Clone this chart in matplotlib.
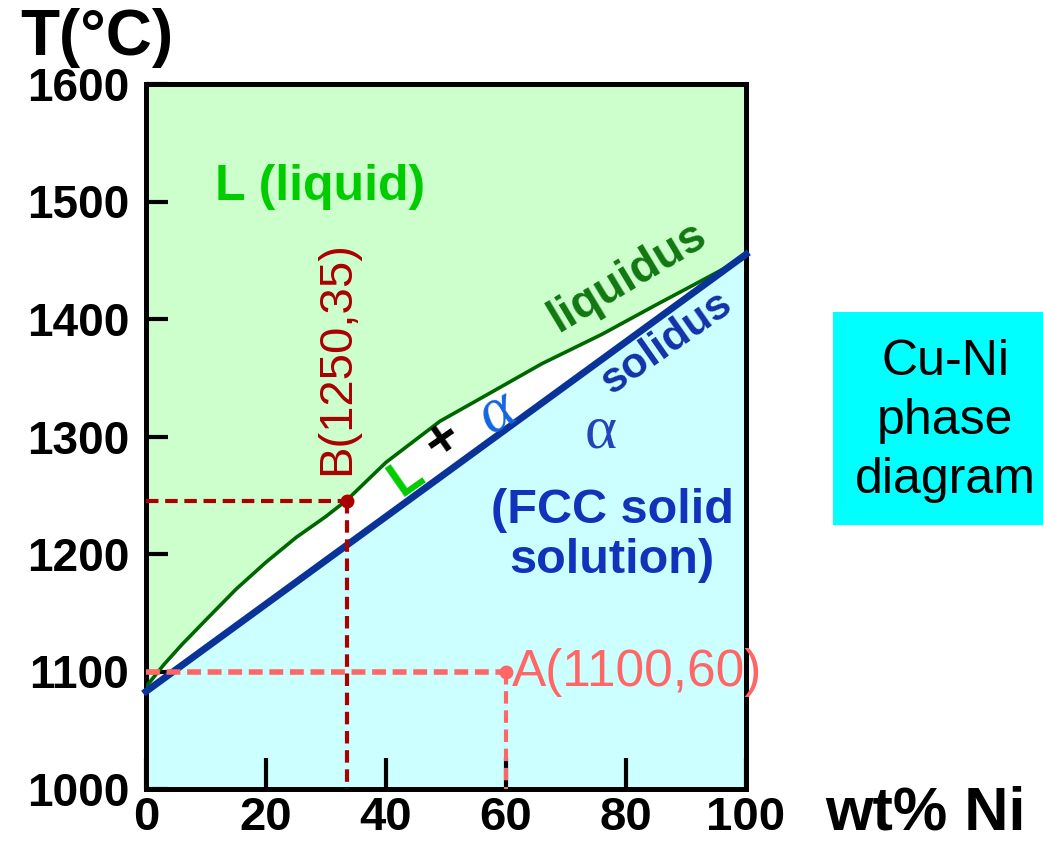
import matplotlib
matplotlib.use("Agg")
import matplotlib.pyplot as plt
from matplotlib.patches import Rectangle

plt.rcParams['font.family'] = ['Liberation Sans', 'DejaVu Sans']

# phase boundaries (wt% Ni, T in C)
liq_x = [0, 3, 6, 10, 15, 20, 25, 30, 33.5, 40, 49, 57, 66, 76, 85, 92, 100]
liq_t = [1087, 1106, 1123, 1144, 1170, 1193, 1214, 1232, 1246, 1278, 1313, 1336, 1362, 1387, 1412, 1431, 1453]
sol_x = [0, 100]
sol_t = [1083, 1455]

# points
B = (33.5, 1245)
A = (60, 1100)

xticks = [0, 20, 40, 60, 80, 100]
yticks = [1000, 1100, 1200, 1300, 1400, 1500, 1600]

fig = plt.figure(figsize=(10.43, 8.44), dpi=100)
ax = fig.add_axes([146/1043, 1-789/844, 600/1043, 705/844])
ax.set_xlim(0, 100)
ax.set_ylim(1000, 1600)

# regions
ax.fill(liq_x + [100, 0], liq_t + [1600, 1600], color='#ccffcc', lw=0, zorder=0)
ax.fill(sol_x + [100, 0], sol_t + [1000, 1000], color='#ccffff', lw=0, zorder=0)

ax.plot(liq_x, liq_t, color='#006600', lw=2.6, zorder=3)
ax.plot(sol_x, sol_t, color='#0a3399', lw=5, zorder=3, clip_on=False)

# B and A dashed guides
ax.plot([0, B[0]], [B[1], B[1]], color='#aa0000', lw=3, ls=(0, (3, 1.6)), zorder=4)
ax.plot([B[0], B[0]], [B[1], 1000], color='#aa0000', lw=3, ls=(0, (3, 1.6)), zorder=4)
ax.plot([B[0]], [B[1]], 'o', color='#aa0000', ms=9, zorder=5)
ax.plot([0, A[0]], [A[1], A[1]], color='#ff6666', lw=4, ls=(0, (2.5, 1.2)), zorder=4)
ax.plot([A[0], A[0]], [A[1], 1000], color='#ff6666', lw=3, ls=(0, (3, 1.6)), zorder=4)
ax.plot([A[0]], [A[1]], 'o', color='#ff6666', ms=9, zorder=5)

ax.text(31.8, 1367, 'B(1250,35)', rotation=90, ha='center', va='center',
        color='#aa0000', fontsize=34)
ax.text(61, 1099, 'A(1100,60)', ha='left', va='center', color='#ff6666',
        fontsize=37, clip_on=False)

# labels
ax.text(29, 1512, 'L (liquid)', ha='center', va='center', color='#00cc00',
        fontsize=36, fontweight='bold')
ax.text(80.3, 1436, 'liquidus', ha='center', va='center', color='#117711',
        fontsize=33, fontweight='bold', rotation=31)
ax.text(86.8, 1380, 'solidus', ha='center', va='center', color='#1133aa',
        fontsize=31, fontweight='bold', rotation=35)
ax.text(43.5, 1265, 'L', ha='center', va='center', color='#00cc00',
        fontsize=36, fontweight='bold', rotation=35)
ax.text(49.5, 1297, '+', ha='center', va='center', color='black',
        fontsize=40, fontweight='bold', rotation=35)
ax.text(58.5, 1320, 'α', ha='center', va='center', color='#1166dd',
        fontsize=46, family=['Liberation Serif', 'DejaVu Serif'], style='italic', rotation=30)
ax.text(75.7, 1303, 'α', ha='center', va='center', color='#2244bb',
        fontsize=44, family=['Liberation Serif', 'DejaVu Serif'])
ax.text(77.7, 1216, '(FCC solid\nsolution)', ha='center', va='center',
        color='#1133bb', fontsize=35, fontweight='bold', linespacing=1.15)

# axes styling
for s in ax.spines.values():
    s.set_linewidth(3.6)
ax.set_xticks(xticks)
ax.set_yticks(yticks)
ax.set_xticklabels([str(v) for v in xticks], fontsize=34, fontweight='bold')
ax.set_yticklabels([str(v) for v in yticks], fontsize=33, fontweight='bold')
ax.tick_params(axis='y', direction='in', length=16, width=3, pad=12)
ax.tick_params(axis='x', direction='in', length=22, width=3, pad=5)

fig.text(20/1043, 1-38/844, 'T(°C)', ha='left', va='center', fontsize=46, fontweight='bold')
fig.text(825/1043, 1-814/844, 'wt% Ni', ha='left', va='center', fontsize=44, fontweight='bold')

# side note box
fig.add_artist(Rectangle((833/1043, 1-525/844), 210/1043, 213/844,
                         transform=fig.transFigure, color='#00ffff', lw=0))
fig.text(945/1043, 1-421/844, 'Cu-Ni\nphase\ndiagram', ha='center', va='center',
         fontsize=36, linespacing=1.35)

fig.savefig('out.png', dpi=100)
